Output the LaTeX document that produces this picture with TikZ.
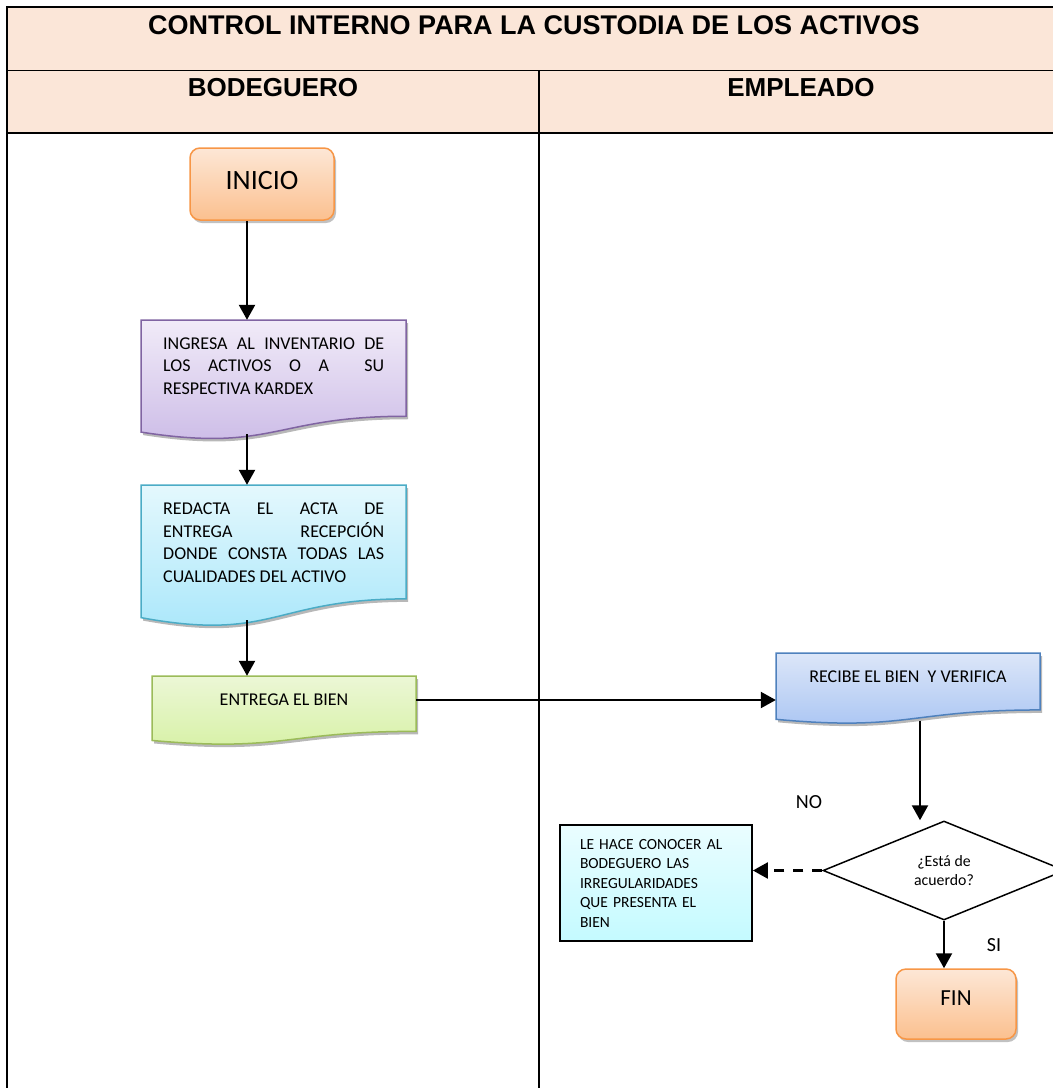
\documentclass[tikz,border=0pt]{standalone}
\usepackage{fontspec}
\setmainfont{Carlito}
\newfontfamily\headfont{Liberation Sans}
\usetikzlibrary{arrows.meta,shapes.geometric,shadows,calc}

\definecolor{headfill}{HTML}{FBE6D8}
\definecolor{termTop}{HTML}{FDE7D6}
\definecolor{termBot}{HTML}{FBC08F}
\definecolor{termLine}{HTML}{F79646}
\definecolor{lilaTop}{HTML}{F1EBF8}
\definecolor{lilaBot}{HTML}{CAB9E6}
\definecolor{lilaLine}{HTML}{8064A2}
\definecolor{aquaTop}{HTML}{E4F8FD}
\definecolor{aquaBot}{HTML}{A6E6FA}
\definecolor{aquaLine}{HTML}{4BACC6}
\definecolor{limaTop}{HTML}{ECF7D6}
\definecolor{limaBot}{HTML}{D6F1A4}
\definecolor{limaLine}{HTML}{9BBB59}
\definecolor{azulTop}{HTML}{DCE6F8}
\definecolor{azulBot}{HTML}{A8C4F3}
\definecolor{azulLine}{HTML}{4F81BD}
\definecolor{celTop}{HTML}{EAFDFF}
\definecolor{celBot}{HTML}{C4FAFF}

% document-style box with a wavy lower edge
% #1 left x, #2 right x, #3 top y, #4 height, #5 top colour, #6 bottom colour, #7 border
\newcommand\flowdoc[7]{%
  \pgfmathsetmacro\fdR{#3+0.802*#4}%
  \pgfmathsetmacro\fdB{#3+1.107*#4}%
  \pgfmathsetmacro\fdL{#3+0.934*#4}%
  \pgfmathsetmacro\fdM{(#1+#2)/2}%
  \fill[black!28, shift={(2,3)}] (#1,#3) -- (#2,#3) -- (#2,\fdR)
    .. controls (\fdM,\fdR) and (\fdM,\fdB) .. (#1,\fdL) -- cycle;
  \shade[top color=#5, bottom color=#6, draw=#7, line width=1.5pt]
    (#1,#3) -- (#2,#3) -- (#2,\fdR)
    .. controls (\fdM,\fdR) and (\fdM,\fdB) .. (#1,\fdL) -- cycle;
}

\begin{document}
\begin{tikzpicture}[x=1pt,y=-1pt,
  headtext/.style={font=\headfont\bfseries\fontsize{26}{30}\selectfont, inner sep=0pt},
  area/.style={rectangle, inner sep=0pt},
  terminal/.style={rectangle, rounded corners=10pt, draw=termLine, line width=1.5pt,
    top color=termTop, bottom color=termBot,
    drop shadow={shadow xshift=2pt, shadow yshift=-3pt, fill=black!30, opacity=0.8}},
  bodytext/.style={font=\fontsize{18}{22.5}\selectfont, inner sep=0pt,
    text width=221pt, align=justify, anchor=north west},
  flow/.style={line width=2.3pt, -{Triangle[width=16pt,length=15pt]}},
  lbl/.style={font=\fontsize{20}{24}\selectfont, inner sep=0pt}]

\useasboundingbox (0,0) rectangle (1053,1088);

% table frame and headings
\fill[headfill] (7,7) rectangle (1053,133);
\draw[line width=1.4pt] (7,7) -- (1053,7);
\draw[line width=1.4pt] (7,70.5) -- (1053,70.5);
\draw[line width=2.6pt] (7,133) -- (1053,133);
\draw[line width=2pt] (7,6.3) -- (7,1088);
\draw[line width=2pt] (539,70.5) -- (539,1088);

\node[headtext, font=\headfont\bfseries\fontsize{27}{31}\selectfont] (titulo) at (534,25)
  {CONTROL INTERNO PARA LA CUSTODIA DE LOS ACTIVOS};
\node[headtext] (bodeguero) at (273,87.5) {BODEGUERO};
\node[headtext] (empleado) at (801,87.5) {EMPLEADO};

% lane guides for the connectors
\coordinate (colA) at (247,0);
\coordinate (colB) at (920,0);
\coordinate (rowE) at (0,700);

% start
\node[terminal, minimum width=144pt, minimum height=72pt,
  font=\fontsize{28}{32}\selectfont, text height=18pt, text depth=8pt] (inicio) at (262,184) {INICIO};

% documents
\flowdoc{141}{406}{320}{120}{lilaTop}{lilaBot}{lilaLine}
\node[area, minimum width=265pt, minimum height=114pt] (ingresa) at (273.5,377) {};
\node[bodytext] (ingresatxt) at (163,337.5)
  {INGRESA AL INVENTARIO DE\linebreak LOS ACTIVOS O A \ SU\linebreak RESPECTIVA KARDEX};

\flowdoc{141}{406}{485}{142}{aquaTop}{aquaBot}{aquaLine}
\node[area, minimum width=265pt, minimum height=135pt] (redacta) at (273.5,552.5) {};
\node[bodytext] (redactatxt) at (163,503)
  {REDACTA EL ACTA DE\linebreak ENTREGA RECEPCIÓN\linebreak DONDE CONSTA TODAS LAS\linebreak CUALIDADES DEL ACTIVO};

\flowdoc{152}{416}{676}{69}{limaTop}{limaBot}{limaLine}
\node[area, minimum width=264pt, minimum height=65.5pt] (entrega) at (284,708.75) {};
\node[font=\fontsize{18}{22}\selectfont, inner sep=0pt] (entregatxt) at (284,700) {ENTREGA EL BIEN};

\flowdoc{776}{1040}{653}{71}{azulTop}{azulBot}{azulLine}
\node[area, minimum width=264pt, minimum height=67.5pt] (recibe) at (908,686.75) {};
\node[font=\fontsize{18}{22}\selectfont, inner sep=0pt] (recibetxt) at (908,677) {RECIBE EL BIEN \ Y VERIFICA};

% decision
\node[diamond, draw, line width=1.5pt, fill=white, inner sep=0pt, aspect=2.44,
  minimum width=242pt, minimum height=99pt, align=center,
  font=\fontsize{15.8}{19}\selectfont] (acuerdo) at (944,870.5) {¿Está de\\acuerdo?};

% feedback to the storekeeper
\node[rectangle, draw=black, line width=1.8pt, top color=celTop, bottom color=celBot,
  minimum width=192pt, minimum height=116pt, inner sep=0pt, text width=152pt, align=left,
  font=\fontsize{15.5}{19.5}\selectfont] (conocer) at (656,883)
  {LE HACE CONOCER AL\\BODEGUERO LAS\\IRREGULARIDADES\\QUE PRESENTA EL\\BIEN};

% end
\node[terminal, minimum width=120pt, minimum height=70pt,
  font=\fontsize{23}{27}\selectfont, text height=15pt, text depth=12pt] (fin) at (956,1004) {FIN};

% branch labels
\node[lbl] (no) at (809,802) {NO};
\node[lbl] (si) at (994,945) {SI};

% connectors
\draw[flow] (inicio.south -| colA) -- (ingresa.north -| colA);
\draw[flow] (ingresa.south -| colA) -- (redacta.north -| colA);
\draw[flow] (redacta.south -| colA) -- (entrega.north -| colA);
\draw[flow] (entrega.east |- rowE) -- (recibe.west |- rowE);
\draw[flow] (recibe.south -| colB) -- (acuerdo.north -| colB);
\draw[flow, dash pattern=on 10pt off 9pt] (acuerdo.west) -- (conocer.east |- acuerdo.west);
\draw[flow] (acuerdo.south) -- (acuerdo.south |- fin.north);

\end{tikzpicture}
\end{document}
